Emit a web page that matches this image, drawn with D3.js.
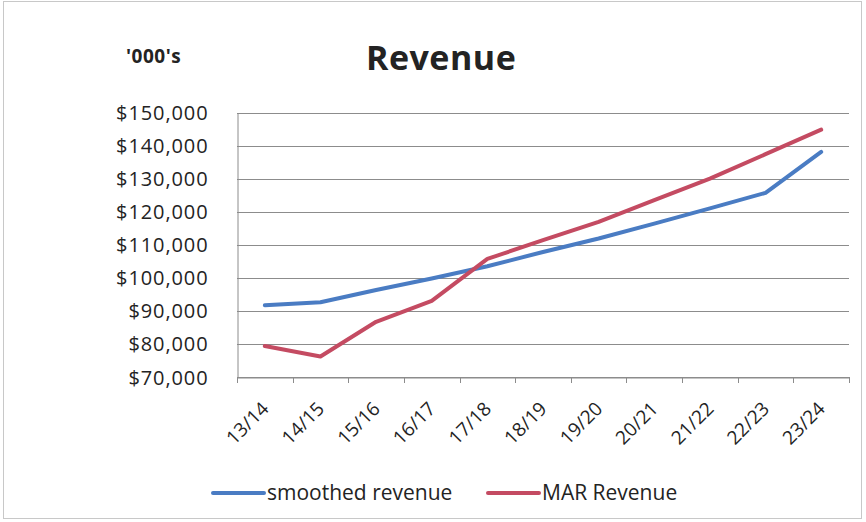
<!DOCTYPE html>
<html>
<head>
<meta charset="utf-8">
<script src="https://cdn.jsdelivr.net/npm/d3@7"></script>
<style>
  body { margin: 0; background: #fff; }
  svg text { font-family: "Open Sans", "Noto Sans", sans-serif; fill: #232323; }
</style>
</head>
<body>
<svg id="chart" width="866" height="522"></svg>
<script>
// chart data
const years = ["13/14", "14/15", "15/16", "16/17", "17/18", "18/19", "19/20", "20/21", "21/22", "22/23", "23/24"];
const smoothedRevenue = [91700, 92600, 96300, 99800, 103500, 107800, 111900, 116400, 121000, 125700, 138100];
const marRevenue = [79400, 76200, 86700, 93000, 105700, 111400, 116900, 123500, 130000, 137400, 144800];
const yTicks = [70000, 80000, 90000, 100000, 110000, 120000, 130000, 140000, 150000];

const series = [
  { name: "smoothed revenue", values: smoothedRevenue, color: "#4a7cc3" },
  { name: "MAR Revenue", values: marRevenue, color: "#c44b62" }
];

const svg = d3.select("#chart");

// border of the chart area
svg.append("rect")
  .attr("x", 3.5).attr("y", 1.5)
  .attr("width", 858).attr("height", 517)
  .attr("fill", "none")
  .attr("stroke", "#c8c8c8");

const x = d3.scaleBand().domain(years).range([237, 849]);
const y = d3.scaleLinear().domain([70000, 150000]).range([377, 112.5]);

// gridlines
svg.append("g")
  .selectAll("line")
  .data(yTicks)
  .join("line")
  .attr("x1", 237).attr("x2", 849)
  .attr("y1", d => Math.round(y(d)) + 0.5)
  .attr("y2", d => Math.round(y(d)) + 0.5)
  .attr("stroke", "#8c8c8c")
  .attr("stroke-width", 1);

// y axis
const yAxis = svg.append("g")
  .attr("transform", "translate(237.5,0)")
  .call(d3.axisLeft(y).tickValues(yTicks).tickSize(0).tickPadding(29)
    .tickFormat(d => "$" + d3.format(",")(d)));
yAxis.select(".domain").attr("stroke", "#8c8c8c");
yAxis.selectAll("text")
  .style("font-size", "20px")
  .style("letter-spacing", "0.9px")
  .attr("dy", "0.35em");

// x axis
const xAxis = svg.append("g")
  .attr("transform", "translate(0," + (Math.round(y(70000)) + 0.5) + ")")
  .call(d3.axisBottom(x).tickSize(0).tickFormat(""));
xAxis.select(".domain").attr("stroke", "#8c8c8c");

// x tick marks at category boundaries
svg.append("g")
  .selectAll("line")
  .data(d3.range(years.length + 1))
  .join("line")
  .attr("x1", i => Math.round(237 + i * x.step()) + 0.5)
  .attr("x2", i => Math.round(237 + i * x.step()) + 0.5)
  .attr("y1", y(70000))
  .attr("y2", y(70000) + 6)
  .attr("stroke", "#8c8c8c");

// rotated category labels
svg.append("g")
  .selectAll("text")
  .data(years)
  .join("text")
  .attr("transform", d => "translate(" + (x(d) + x.bandwidth() / 2 + 5) + "," + (y(70000) + 33) + ") rotate(-45)")
  .attr("text-anchor", "end")
  .style("font-size", "19px")
  .text(d => d);

// lines
const line = d3.line()
  .x((d, i) => x(years[i]) + x.bandwidth() / 2)
  .y(d => y(d));

svg.append("g")
  .selectAll("path")
  .data(series)
  .join("path")
  .attr("d", d => line(d.values))
  .attr("fill", "none")
  .attr("stroke", d => d.color)
  .attr("stroke-width", 4)
  .attr("stroke-linejoin", "round")
  .attr("stroke-linecap", "round");

// titles
svg.append("text")
  .attr("x", 366).attr("y", 70)
  .style("font-size", "34px")
  .style("font-weight", "bold")
  .style("letter-spacing", "0.5px")
  .text("Revenue");

svg.append("text")
  .attr("x", 126).attr("y", 63)
  .style("font-size", "19px")
  .style("font-weight", "bold")
  .style("letter-spacing", "0.5px")
  .text("'000's");

// legend
const legendPos = [213, 488];
const legend = svg.append("g")
  .selectAll("g")
  .data(series)
  .join("g")
  .attr("transform", (d, i) => "translate(" + legendPos[i] + ",493)");

legend.append("line")
  .attr("x1", 0).attr("x2", 51)
  .attr("stroke", d => d.color)
  .attr("stroke-width", 4)
  .attr("stroke-linecap", "round");

legend.append("text")
  .attr("x", 54)
  .attr("dy", "0.35em")
  .style("font-size", "21px")
  .text(d => d.name);
</script>
</body>
</html>
